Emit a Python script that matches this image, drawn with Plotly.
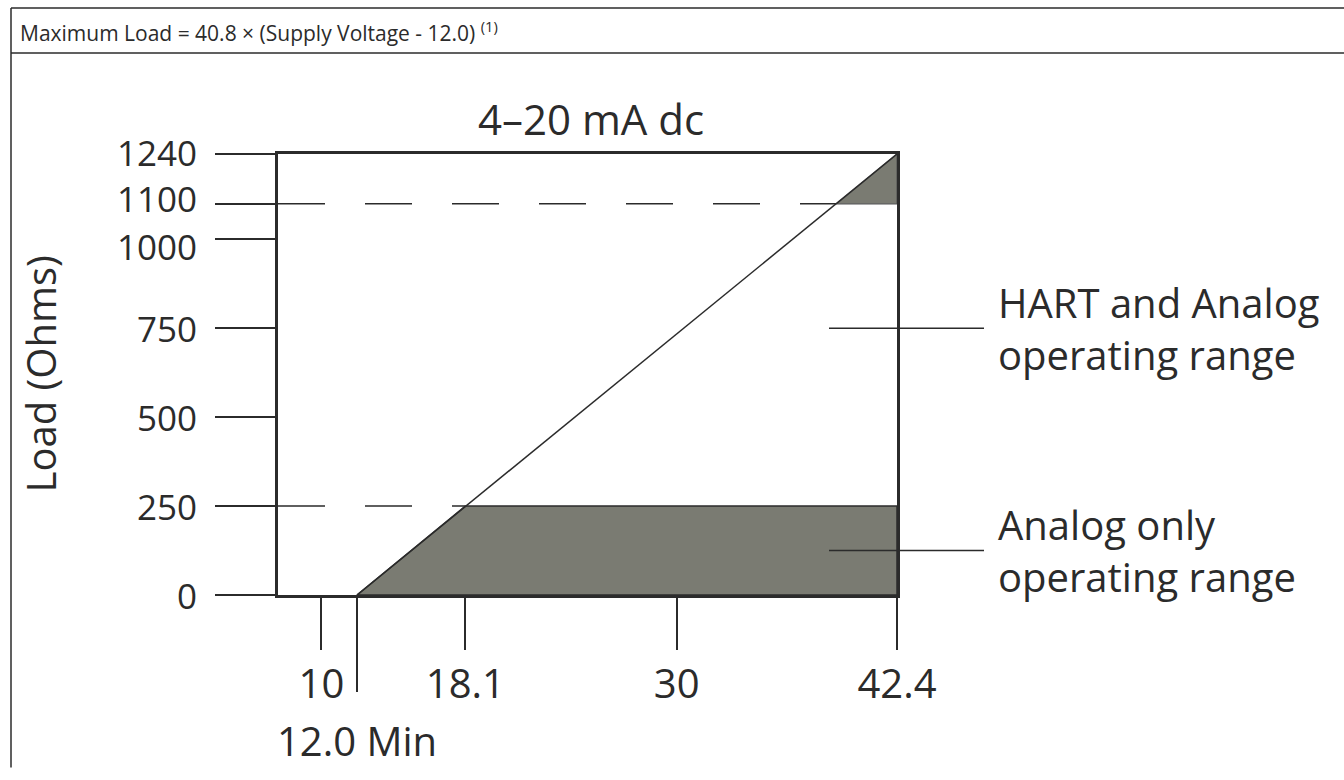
import plotly.graph_objects as go

# Supply voltage (V) and load (Ohms) values
x_ticks = [10, 18.1, 30, 42.4]
x_min_tick = [12.0]
x_min_text = ["12.0 Min"]
y_ticks = [0, 250, 500, 750, 1000, 1100, 1240]
# small vertical nudges (px) so the crowded upper labels stay readable
y_label_shift = [0, 0, 0, 0, -7, 5, 2]

# Maximum load line endpoints
line_voltage = [12.0, 42.4]
line_load = [0, 1240]

# Analog-only operating region (below 250 Ohms)
analog_voltage = [12.0, 18.1, 42.4, 42.4, 12.0]
analog_load = [0, 250, 250, 0, 0]

# Region above 1100 Ohms under the load line
upper_voltage = [39.0, 42.4, 42.4, 39.0]
upper_load = [1100, 1240, 1100, 1100]

# Dashed reference levels and where they meet the load line
ref_levels = [1100, 250]
ref_ends = [39.0, 18.1]

# Callout levels for the region labels
hart_level = 750
analog_level = 125

FONT = "Open Sans"
INK = "#2b2b2b"
FILL = "#7a7b72"

X_RANGE = [7.553, 42.4]
Y_RANGE = [0, 1240]

fig = go.Figure()

fig.add_trace(go.Scatter(
    x=analog_voltage, y=analog_load, mode="lines", fill="toself",
    fillcolor=FILL, line=dict(color=INK, width=1.5), hoverinfo="skip"))
fig.add_trace(go.Scatter(
    x=upper_voltage, y=upper_load, mode="lines", fill="toself",
    fillcolor=FILL, line=dict(color="#555555", width=1.2), hoverinfo="skip"))

for lvl, end in zip(ref_levels, ref_ends):
    fig.add_trace(go.Scatter(
        x=[X_RANGE[0], end], y=[lvl, lvl], mode="lines",
        line=dict(color=INK, width=1.5, dash="47px,40px"), hoverinfo="skip"))

fig.add_trace(go.Scatter(
    x=line_voltage, y=line_load, mode="lines",
    line=dict(color=INK, width=1.5), hoverinfo="skip"))

tick_font = dict(size=40, family=FONT, color=INK)

fig.update_layout(
    width=1344, height=780,
    margin=dict(l=278, r=447, t=154, b=176),
    paper_bgcolor="white", plot_bgcolor="white",
    showlegend=False,
    font=dict(family=FONT, color=INK),
    xaxis=dict(
        range=X_RANGE, tickvals=x_ticks, ticktext=[str(v) for v in x_ticks],
        showgrid=False, zeroline=False, showline=True, mirror=True,
        linecolor=INK, linewidth=3, ticks="outside", ticklen=52,
        tickwidth=1.5, tickcolor=INK, tickfont=tick_font,
        ticklabelstandoff=0),
    xaxis2=dict(
        range=X_RANGE, overlaying="x", anchor="y", side="bottom",
        tickvals=x_min_tick, ticktext=x_min_text,
        showgrid=False, zeroline=False, showline=False,
        ticks="outside", ticklen=96, tickwidth=1.5, tickcolor=INK,
        tickfont=tick_font, ticklabelstandoff=16),
    yaxis=dict(
        range=Y_RANGE, tickvals=y_ticks, showticklabels=False,
        showgrid=False, zeroline=False, showline=True, mirror=True,
        linecolor=INK, linewidth=3, ticks="outside", ticklen=60,
        tickwidth=1.5, tickcolor=INK),
)

# invisible trace to activate the second x axis
fig.add_trace(go.Scatter(x=[12.0], y=[0], xaxis="x2", mode="markers",
                         marker=dict(opacity=0), hoverinfo="skip"))

# pixel -> paper helpers for the page furniture
PX = lambda px: (px - 278) / 619
PY = lambda py: (604 - py) / 450

# y tick labels
for val, shift in zip(y_ticks, y_label_shift):
    fig.add_annotation(
        text=str(val), xref="paper", yref="y", x=PX(199), y=val, yshift=shift,
        xanchor="right", yanchor="middle", showarrow=False,
        font=dict(size=35, family=FONT, color=INK))

# page frame with header row
frame = dict(color=INK, width=1.5)
fig.add_shape(type="line", xref="paper", yref="paper",
              x0=PX(11), x1=PX(1344), y0=PY(5), y1=PY(5), line=frame)
fig.add_shape(type="line", xref="paper", yref="paper",
              x0=PX(11), x1=PX(1344), y0=PY(51), y1=PY(51), line=frame)
fig.add_shape(type="line", xref="paper", yref="paper",
              x0=PX(11), x1=PX(11), y0=PY(5), y1=PY(780), line=frame)

fig.add_annotation(
    text="Maximum Load = 40.8 × (Supply Voltage - 12.0) <sup>(1)</sup>",
    xref="paper", yref="paper", x=PX(18), y=PY(29), xanchor="left", yanchor="middle",
    showarrow=False, font=dict(size=21, family=FONT, color=INK))

fig.add_annotation(
    text="4–20 mA dc", xref="paper", yref="paper", x=PX(591), y=PY(118),
    xanchor="center", yanchor="middle", showarrow=False,
    font=dict(size=42, family=FONT, color=INK))

fig.add_annotation(
    text="Load (Ohms)", xref="paper", yref="paper", x=PX(40), y=PY(379),
    xanchor="center", yanchor="middle", textangle=-90, showarrow=False,
    font=dict(size=40, family=FONT, color=INK))

# callouts for the operating regions
for lvl, label in [(hart_level, "HART and Analog<br>operating range"),
                   (analog_level, "Analog only<br>operating range")]:
    fig.add_shape(type="line", xref="paper", yref="y",
                  x0=PX(829), x1=PX(984), y0=lvl, y1=lvl,
                  line=dict(color=INK, width=1.5))
    fig.add_annotation(
        text=label, xref="paper", yref="y", x=PX(996), y=lvl,
        xanchor="left", yanchor="middle", align="left", showarrow=False,
        font=dict(size=40, family=FONT, color=INK))

fig.write_html("out.html")
